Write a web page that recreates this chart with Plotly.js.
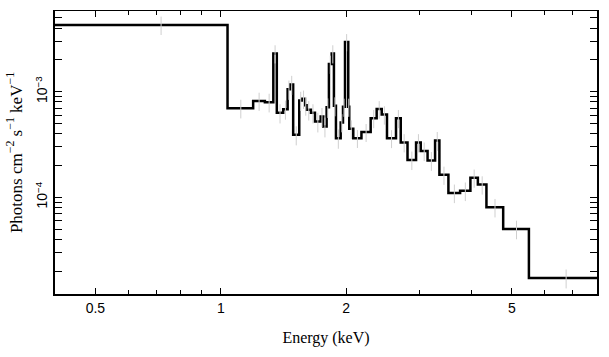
<!DOCTYPE html>
<html>
<head>
<meta charset="utf-8">
<script src="https://cdn.plot.ly/plotly-3.0.1.min.js"></script>
<style>html,body{margin:0;padding:0;background:#fff;}#chart{width:609px;height:357px;}</style>
</head>
<body>
<div id="chart"></div>
<script>
// Bin edges (keV)
const binEdges = [0.4, 1.038, 1.196, 1.276, 1.337, 1.363, 1.412, 1.447, 1.468, 1.492,
  1.543, 1.568, 1.592, 1.607, 1.646, 1.683, 1.737, 1.762, 1.795, 1.818,
  1.846, 1.869, 1.890, 1.940, 1.965, 1.987, 2.023, 2.034, 2.080, 2.176,
  2.290, 2.367, 2.434, 2.506, 2.634, 2.704, 2.807, 2.943, 3.020, 3.136,
  3.269, 3.348, 3.519, 3.754, 3.974, 4.141, 4.342, 4.763, 5.491, 8.0];
// Flux per bin (photons cm^-2 s^-1 keV^-1)
const flux = [4.29e-3, 6.98e-4, 8.18e-4, 7.96e-4, 2.30e-3, 6.30e-4, 6.83e-4, 1.056e-3, 1.172e-3, 3.90e-4,
  8.27e-4, 8.55e-4, 7.42e-4, 6.73e-4, 6.30e-4, 5.21e-4, 5.81e-4, 4.69e-4, 7.14e-4, 1.833e-3,
  2.30e-3, 7.34e-4, 3.63e-4, 5.12e-4, 7.18e-4, 2.96e-3, 7.18e-4, 4.45e-4, 3.63e-4, 4.14e-4,
  5.61e-4, 6.84e-4, 6.07e-4, 3.62e-4, 5.61e-4, 3.31e-4, 2.26e-4, 3.31e-4, 2.75e-4, 2.23e-4,
  3.45e-4, 1.63e-4, 1.10e-4, 1.15e-4, 1.53e-4, 1.32e-4, 8.04e-5, 5.00e-5, 1.72e-5];
// 1-sigma errors per bin
const fluxErr = [8.5e-4, 1.4e-4, 1.6e-4, 1.6e-4, 4.5e-4, 1.3e-4, 1.4e-4, 2.2e-4, 2.4e-4, 8e-5,
  1.7e-4, 1.7e-4, 1.5e-4, 1.4e-4, 1.3e-4, 1.1e-4, 1.2e-4, 1.0e-4, 1.5e-4, 3.6e-4,
  4.5e-4, 1.5e-4, 7.5e-5, 1.0e-4, 1.4e-4, 5.5e-4, 1.4e-4, 9e-5, 7e-5, 8e-5,
  1.1e-4, 1.3e-4, 1.2e-4, 7e-5, 1.1e-4, 6.5e-5, 4.5e-5, 6.5e-5, 5.5e-5, 4.5e-5,
  7e-5, 3.2e-5, 2.2e-5, 2.3e-5, 3e-5, 2.6e-5, 1.6e-5, 1.0e-5, 3.5e-6];
const xTickVals = [0.5, 1, 2, 5];
const xTickText = ['0.5', '1', '2', '5'];
const xMinorVals = [0.4, 0.6, 0.7, 0.8, 0.9, 3, 4, 6, 7, 8];
const yTickVals = [1e-4, 1e-3];
const yTickText = ['10<sup>\u22124</sup>', '10<sup>\u22123</sup>'];
const yMinorVals = [2e-5, 3e-5, 4e-5, 5e-5, 6e-5, 7e-5, 8e-5, 9e-5,
  2e-4, 3e-4, 4e-4, 5e-4, 6e-4, 7e-4, 8e-4, 9e-4, 2e-3, 3e-3, 4e-3, 5e-3];

const centers = flux.map((v, i) => (binEdges[i] + binEdges[i + 1]) / 2);
const stepY = flux.concat([flux[flux.length - 1]]);

const errTrace = {
  x: centers, y: flux, type: 'scatter', mode: 'markers', xaxis: 'x2',
  marker: {size: 0.1, color: 'rgba(0,0,0,0)'},
  error_y: {type: 'data', array: fluxErr, visible: true, color: '#cfcfcf', thickness: 1, width: 0},
  hoverinfo: 'skip', showlegend: false
};
const stepTrace = {
  x: binEdges, y: stepY, type: 'scatter', mode: 'lines',
  line: {shape: 'hv', color: '#000', width: 2.5}, showlegend: false
};

const sans = '"Liberation Sans", Arial, sans-serif';
const serif = '"Liberation Serif", "Times New Roman", serif';
const xr = [Math.log10(0.4), Math.log10(8)];

const layout = {
  width: 609, height: 357,
  margin: {l: 55, r: 12, t: 11, b: 63},
  paper_bgcolor: '#fff', plot_bgcolor: '#fff',
  showlegend: false,
  xaxis: {
    type: 'log', range: xr, showgrid: false, zeroline: false,
    showline: true, linecolor: '#000', linewidth: 2, mirror: false,
    ticks: 'inside', ticklen: 6, tickwidth: 1, tickcolor: '#000',
    tickmode: 'array', tickvals: xTickVals, ticktext: xTickText,
    minor: {tickmode: 'array', tickvals: xMinorVals, ticks: 'inside', ticklen: 4, tickcolor: '#000', showgrid: false},
    tickfont: {family: sans, size: 14, color: '#000'},
    title: {text: 'Energy (keV)', font: {family: serif, size: 16, color: '#000'}, standoff: 17}
  },
  xaxis2: {
    type: 'log', range: xr, overlaying: 'x', side: 'top', anchor: 'y', matches: 'x',
    showgrid: false, zeroline: false, showline: true, linecolor: '#000', linewidth: 1,
    ticks: 'inside', ticklen: 6, tickwidth: 1, tickcolor: '#000',
    tickmode: 'array', tickvals: xTickVals, showticklabels: false,
    minor: {tickmode: 'array', tickvals: xMinorVals, ticks: 'inside', ticklen: 4, tickcolor: '#000', showgrid: false}
  },
  yaxis: {
    type: 'log', range: [-4.916, -2.236], showgrid: false, zeroline: false,
    showline: true, linecolor: '#000', linewidth: 2, mirror: 'allticks',
    ticks: 'inside', ticklen: 7, tickwidth: 1, tickcolor: '#000',
    tickmode: 'array', tickvals: yTickVals, ticktext: yTickText, tickangle: -90,
    minor: {tickmode: 'array', tickvals: yMinorVals, ticks: 'inside', ticklen: 4, tickcolor: '#000', showgrid: false},
    tickfont: {family: sans, size: 14, color: '#000'},
    title: {text: 'Photons cm<sup>\u22122</sup> s<sup>\u22121</sup> keV<sup>\u22121</sup>', font: {family: serif, size: 17, color: '#000'}, standoff: 6}
  }
};

Plotly.newPlot('chart', [errTrace, stepTrace], layout, {displayModeBar: false, staticPlot: true});
</script>
</body>
</html>
